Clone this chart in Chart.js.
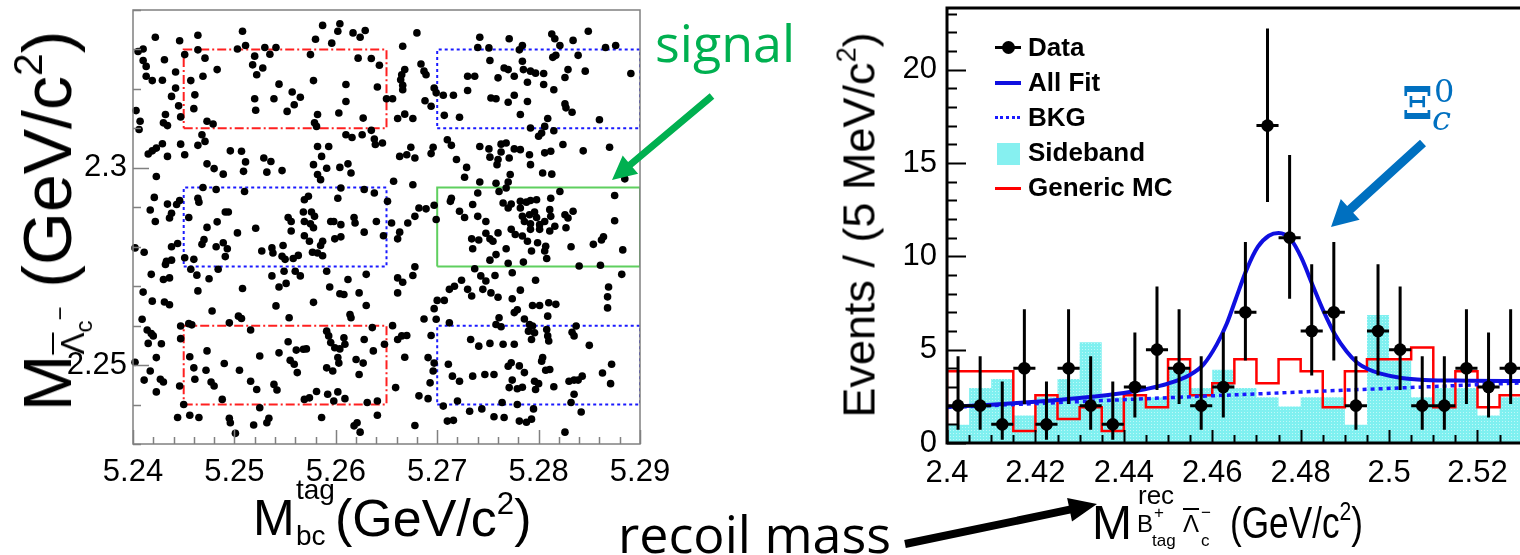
<!DOCTYPE html>
<html>
<head>
<meta charset="utf-8">
<title>Xi_c0 in the recoil mass</title>
<script src="https://cdn.jsdelivr.net/npm/chart.js@4.4.1/dist/chart.umd.min.js"></script>
<style>
  html, body { margin: 0; padding: 0; background: #fff; overflow: hidden; }
  #stage { position: relative; width: 1520px; height: 555px; overflow: hidden; font-family: "Liberation Sans", Arial, sans-serif; }
  canvas { position: absolute; top: 0; }
  .t { position: absolute; white-space: nowrap; line-height: 1; color: #000; }
  .t sup { font-size: 0.6em; vertical-align: 0.7em; line-height: 0; }
  .ov { text-decoration: overline; text-decoration-thickness: 2px; }
  .rot { position: absolute; white-space: nowrap; line-height: 1; transform: translate(-50%, -50%) rotate(-90deg); }
  .rot sup { font-size: 0.6em; vertical-align: 0.7em; line-height: 0; }
  .leg { position: absolute; font-weight: bold; font-size: 26px; line-height: 1; white-space: nowrap; }
  .note { position: absolute; font-family: "Open Sans", "Noto Sans", sans-serif; font-size: 52px; line-height: 1; white-space: nowrap; }
  .xi { position: absolute; font-family: "DejaVu Serif", serif; color: #0070c0; line-height: 1; }
</style>
</head>
<body>
<div id="stage">
  <canvas id="mbcChart" width="700" height="500" style="left:0"></canvas>
  <canvas id="recoilChart" width="678" height="500" style="left:850px"></canvas>

  <!-- left panel titles -->
  <div class="rot" style="left:47px;top:221px;font-size:68px">M<span style="font-size:33px;position:relative;top:13px"><span class="ov">&Lambda;</span><span style="font-size:24px;position:relative;top:8px">c</span><span style="font-size:24px;position:relative;top:-16px">&minus;</span></span> (GeV/c<sup>2</sup>)</div>
  <div class="t" style="left:253px;top:493px;font-size:50px">M</div>
  <div class="t" style="left:296px;top:476px;font-size:28px">tag</div>
  <div class="t" style="left:296px;top:522px;font-size:28px">bc</div>
  <div class="t" style="left:335px;top:492px;font-size:52px">(GeV/c<sup>2</sup>)</div>

  <!-- right panel titles -->
  <div class="rot" style="left:859px;top:225px;font-size:45px">Events / (5 MeV/c<sup>2</sup>)</div>
  <div class="t" style="left:1092px;top:499px;font-size:48px">M</div>
  <div class="t" style="left:1138px;top:482px;font-size:26px">rec</div>
  <div class="t" style="left:1137px;top:512px;font-size:24px">B</div>
  <div class="t" style="left:1154px;top:504px;font-size:17px">+</div>
  <div class="t" style="left:1152px;top:532px;font-size:17px">tag</div>
  <div class="t ov" style="left:1183px;top:512px;font-size:24px">&Lambda;</div>
  <div class="t" style="left:1201px;top:504px;font-size:17px">&minus;</div>
  <div class="t" style="left:1201px;top:532px;font-size:17px">c</div>
  <div class="t" style="left:1230px;top:501px;font-size:44px;transform:scaleX(0.8);transform-origin:left top">(GeV/c<sup>2</sup>)</div>

  <!-- legend -->
  <div class="leg" style="left:1028px;top:34px">Data</div>
  <div class="leg" style="left:1028px;top:69px">All Fit</div>
  <div class="leg" style="left:1028px;top:104px">BKG</div>
  <div class="leg" style="left:1028px;top:139px">Sideband</div>
  <div class="leg" style="left:1028px;top:174px">Generic MC</div>
  <div style="position:absolute;left:995px;top:46px;width:26px;height:3px;background:#000"></div>
  <div style="position:absolute;left:1002px;top:41px;width:13px;height:13px;border-radius:50%;background:#000"></div>
  <div style="position:absolute;left:995px;top:81px;width:26px;height:4px;background:#0f0fe0"></div>
  <div style="position:absolute;left:995px;top:116px;width:25px;height:0;border-top:3px dotted #1a1aff"></div>
  <div style="position:absolute;left:997px;top:143px;width:23px;height:22px;background:#86f0f0"></div>
  <div style="position:absolute;left:995px;top:187px;width:26px;height:3px;background:#ff0000"></div>

  <!-- annotations -->
  <div class="note" style="left:655px;top:16px;color:#00b050">signal</div>
  <div class="note" style="left:618px;top:507px;color:#000">recoil mass</div>
  <div class="xi" style="left:1402px;top:82px;font-size:44px;font-weight:bold">&Xi;</div>
  <div class="xi" style="left:1434px;top:75px;font-size:32px">0</div>
  <div class="xi" style="left:1432px;top:101px;font-size:34px;font-style:italic">c</div>
  <svg id="arrows" width="1520" height="555" style="position:absolute;left:0;top:0;pointer-events:none"></svg>
</div>

<script>
// ---------------- left panel: M(anti-Lambda_c) vs Mbc(tag) ----------------
const mbcTicks = [5.24, 5.25, 5.26, 5.27, 5.28, 5.29];
const lambdaTicks = [2.25, 2.3];

// candidates, [Mbc_tag, M_Lambdac]
const tagEvents = [
  [5.2422,2.3331],[5.2446,2.3322],[5.2464,2.3336],[5.2508,2.3346],[5.2405,2.3295],[5.2410,2.3301],[5.2410,2.3272],[5.2413,2.3257],[5.2431,2.3274],[5.2464,2.3299],
  [5.2471,2.3278],[5.2451,2.3287],[5.2483,2.3249],[5.2442,2.3243],[5.2413,2.3232],[5.2419,2.3221],[5.2429,2.3222],[5.2469,2.3232],[5.2457,2.3221],[5.2442,2.3202],
  [5.2438,2.3181],[5.2461,2.3185],[5.2445,2.3157],[5.2460,2.3150],[5.2447,2.3129],[5.2403,2.3145],[5.2407,2.3118],[5.2406,2.3097],[5.2432,2.3135],[5.2430,2.3114],
  [5.2434,2.3107],[5.2473,2.3118],[5.2479,2.3111],[5.2468,2.3084],[5.2471,2.3067],[5.2464,2.3057],[5.2429,2.3061],[5.2423,2.3050],[5.2419,2.3043],[5.2415,2.3035],
  [5.2434,2.3029],[5.2447,2.3060],[5.2451,2.3033],[5.2473,2.3010],[5.2480,2.2998],[5.2489,2.2984],[5.2423,2.2978],[5.2503,2.3301],[5.2511,2.3310],[5.2520,2.3283],
  [5.2518,2.3261],[5.2528,2.3253],[5.2522,2.3236],[5.2530,2.3305],[5.2535,2.3288],[5.2541,2.3305],[5.2544,2.3212],[5.2520,2.3175],[5.2521,2.3146],[5.2539,2.3175],
  [5.2557,2.3192],[5.2559,2.3160],[5.2552,2.3143],[5.2496,2.3043],[5.2507,2.3042],[5.2511,2.3015],[5.2509,2.2991],[5.2529,2.3025],[5.2536,2.3016],
  [5.2532,2.2989],[5.2547,2.2993],[5.2469,2.2950],[5.2482,2.2945],[5.2510,2.2940],[5.2421,2.2925],[5.2417,2.2893],[5.2434,2.2908],[5.2443,2.2907],[5.2446,2.2917],
  [5.2436,2.2873],[5.2438,2.2885],[5.2464,2.2923],[5.2465,2.2913],[5.2455,2.2874],[5.2422,2.2864],[5.2491,2.2888],[5.2494,2.2888],[5.2483,2.2863],[5.2473,2.2849],
  [5.2521,2.2847],[5.2553,2.2874],[5.2556,2.2864],

  [5.2587,2.3361],[5.2604,2.3365],[5.2602,2.3346],[5.2580,2.3326],[5.2596,2.3316],[5.2617,2.3342],[5.2624,2.3331],[5.2629,2.3348],[5.2680,2.3342],[5.2666,2.3308],
  [5.2575,2.3287],[5.2622,2.3278],[5.2635,2.3277],[5.2643,2.3260],[5.2578,2.3221],[5.2610,2.3211],[5.2641,2.3205],[5.2610,2.3168],[5.2603,2.3139],[5.2582,2.3135],
  [5.2627,2.3126],[5.2565,2.3179],[5.2579,2.3114],[5.2581,2.3105],[5.2650,2.3175],[5.2656,2.3175],[5.2684,2.3263],[5.2687,2.3245],[5.2689,2.3236],[5.2668,2.3249],
  [5.2665,2.3236],[5.2664,2.3223],[5.2666,2.3209],[5.2666,2.3198],[5.2661,2.3125],[5.2668,2.3136],[5.2676,2.3125],[5.2688,2.3170],[5.2694,2.3156],[5.2697,2.3202],
  [5.2699,2.3190],[5.2706,2.3184],[5.2716,2.3184],[5.2730,2.3232],[5.2730,2.3196],[5.2707,2.3133],[5.2722,2.3128],[5.2610,2.3084],[5.2616,2.3077],[5.2626,2.3084],
  [5.2635,2.3095],[5.2638,2.3073],[5.2639,2.3059],[5.2646,2.3063],[5.2582,2.3054],[5.2593,2.3054],[5.2586,2.3029],[5.2578,2.3008],[5.2591,2.2999],[5.2582,2.2983],
  [5.2585,2.2970],[5.2604,2.3001],[5.2612,2.3010],[5.2615,2.2987],[5.2663,2.3029],[5.2670,2.3033],[5.2674,2.3052],[5.2678,2.3025],[5.2696,2.3052],[5.2694,2.3036],
  [5.2710,2.3071],[5.2714,2.3057],[5.2719,2.3021],[5.2729,2.3001],[5.2727,2.2976],[5.2657,2.2966],[5.2676,2.2957],[5.2602,2.2923],[5.2605,2.2949],[5.2628,2.2945],
  [5.2638,2.2936],[5.2651,2.2915],[5.2569,2.2919],[5.2573,2.2928],[5.2568,2.2888],[5.2576,2.2888],[5.2579,2.2877],[5.2569,2.2864],[5.2575,2.2858],[5.2595,2.2864],
  [5.2598,2.2864],[5.2605,2.2856],[5.2618,2.2874],[5.2619,2.2860],[5.2640,2.2864],[5.2655,2.2860],[5.2671,2.2860],[5.2678,2.2877],[5.2682,2.2898],[5.2689,2.2896],
  [5.2697,2.2905],[5.2699,2.2869],[5.2714,2.2923],[5.2713,2.2915],[5.2722,2.2890],[5.2727,2.2874],

  [5.2742,2.3331],[5.2771,2.3327],[5.2740,2.3305],[5.2751,2.3304],[5.2784,2.3310],[5.2781,2.3299],[5.2813,2.3339],[5.2816,2.3327],[5.2821,2.3310],[5.2834,2.3323],
  [5.2849,2.3346],[5.2866,2.3305],[5.2876,2.3310],[5.2752,2.3272],[5.2784,2.3270],[5.2814,2.3280],[5.2817,2.3285],[5.2839,2.3285],[5.2766,2.3253],[5.2770,2.3249],
  [5.2785,2.3249],[5.2792,2.3245],[5.2797,2.3240],[5.2805,2.3239],[5.2829,2.3249],[5.2846,2.3245],[5.2891,2.3239],[5.2737,2.3232],[5.2760,2.3228],[5.2776,2.3232],
  [5.2789,2.3217],[5.2805,2.3211],[5.2826,2.3229],[5.2815,2.3198],[5.2753,2.3177],[5.2758,2.3175],[5.2776,2.3184],[5.2770,2.3166],[5.2789,2.3168],[5.2826,2.3162],
  [5.2827,2.3152],[5.2833,2.3141],[5.2782,2.3135],[5.2860,2.3122],[5.2809,2.3125],[5.2792,2.3101],[5.2806,2.3105],[5.2803,2.3088],[5.2800,2.3080],[5.2815,2.3094],
  [5.2742,2.3054],[5.2751,2.3048],[5.2752,2.3027],[5.2763,2.3060],[5.2768,2.3063],[5.2763,2.3040],[5.2760,2.3021],[5.2759,2.3008],[5.2771,2.3025],[5.2776,2.3048],
  [5.2782,2.3046],[5.2791,2.3033],[5.2792,2.3008],[5.2806,2.3038],[5.2812,2.3042],[5.2824,2.3059],[5.2844,2.3043],[5.2870,2.3052],[5.2804,2.2987],[5.2813,2.2984],
  [5.2742,2.2964],[5.2758,2.2961],[5.2761,2.2940],[5.2772,2.2983],[5.2770,2.2964],[5.2768,2.2949],[5.2885,2.2972],[5.2735,2.2907],[5.2740,2.2936],[5.2765,2.2911],
  [5.2773,2.2908],[5.2770,2.2898],[5.2782,2.2915],[5.2788,2.2913],[5.2792,2.2917],[5.2798,2.2919],[5.2812,2.2923],[5.2821,2.2940],[5.2875,2.2930],[5.2740,2.2877],
  [5.2782,2.2898],[5.2784,2.2877],[5.2791,2.2881],[5.2796,2.2888],[5.2798,2.2874],[5.2786,2.2864],[5.2792,2.2858],[5.2801,2.2856],[5.2806,2.2864],[5.2811,2.2894],
  [5.2812,2.2877],[5.2829,2.2873],[5.2834,2.2890],[5.2826,2.2881],[5.2875,2.2866],[5.2748,2.2864],

  [5.2402,2.2797],[5.2411,2.2786],[5.2438,2.2800],[5.2444,2.2808],[5.2433,2.2763],[5.2432,2.2755],[5.2438,2.2766],[5.2451,2.2772],[5.2460,2.2768],[5.2468,2.2806],
  [5.2470,2.2818],[5.2482,2.2800],[5.2489,2.2810],[5.2493,2.2795],[5.2491,2.2775],[5.2484,2.2743],[5.2503,2.2835],[5.2527,2.2789],[5.2537,2.2797],[5.2538,2.2784],
  [5.2548,2.2803],[5.2547,2.2776],[5.2556,2.2840],[5.2550,2.2768],[5.2558,2.2770],[5.2563,2.2778],[5.2457,2.2743],[5.2463,2.2728],[5.2475,2.2719],[5.2418,2.2730],
  [5.2430,2.2717],[5.2436,2.2721],[5.2410,2.2685],[5.2464,2.2688],[5.2508,2.2694],[5.2537,2.2726],[5.2549,2.2738],[5.2560,2.2738],[5.2565,2.2726],[5.2544,2.2698],
  [5.2551,2.2707],[5.2419,2.2662],[5.2431,2.2660],[5.2436,2.2653],[5.2541,2.2650],[5.2478,2.2637],[5.2504,2.2624],[5.2507,2.2618],[5.2495,2.2607],[5.2409,2.2616],
  [5.2554,2.2620],[5.2414,2.2589],[5.2418,2.2580],[5.2420,2.2574],[5.2415,2.2555],[5.2428,2.2554],[5.2447,2.2599],[5.2455,2.2605],[5.2458,2.2602],[5.2447,2.2567],
  [5.2516,2.2589],[5.2553,2.2559],[5.2561,2.2538],[5.2402,2.2507],[5.2423,2.2519],[5.2417,2.2485],[5.2411,2.2462],[5.2423,2.2432],[5.2427,2.2464],[5.2430,2.2457],
  [5.2473,2.2536],[5.2456,2.2521],[5.2460,2.2493],[5.2461,2.2464],[5.2472,2.2487],[5.2490,2.2504],[5.2505,2.2487],[5.2525,2.2523],[5.2544,2.2531],[5.2555,2.2512],
  [5.2559,2.2502],[5.2562,2.2481],[5.2446,2.2447],[5.2477,2.2457],[5.2480,2.2447],[5.2516,2.2459],[5.2522,2.2438],[5.2539,2.2451],[5.2542,2.2437],[5.2488,2.2413],
  [5.2450,2.2400],[5.2444,2.2367],[5.2456,2.2373],[5.2465,2.2367],[5.2495,2.2365],[5.2496,2.2354],[5.2525,2.2392],[5.2534,2.2365],[5.2532,2.2354],[5.2519,2.2348],
  [5.2501,2.2327],

  [5.2578,2.2848],[5.2569,2.2828],[5.2574,2.2814],[5.2587,2.2814],[5.2585,2.2803],[5.2577,2.2786],[5.2582,2.2784],[5.2587,2.2777],[5.2599,2.2820],[5.2605,2.2825],
  [5.2628,2.2837],[5.2647,2.2828],[5.2661,2.2820],[5.2663,2.2837],[5.2591,2.2738],[5.2612,2.2717],[5.2630,2.2730],[5.2661,2.2721],[5.2666,2.2710],[5.2676,2.2727],
  [5.2678,2.2749],[5.2594,2.2698],[5.2604,2.2681],[5.2608,2.2679],[5.2623,2.2683],[5.2661,2.2683],[5.2578,2.2659],[5.2630,2.2651],[5.2614,2.2628],[5.2615,2.2620],
  [5.2656,2.2600],[5.2636,2.2595],[5.2687,2.2617],[5.2700,2.2664],[5.2707,2.2664],[5.2697,2.2643],[5.2699,2.2616],[5.2712,2.2692],[5.2717,2.2700],[5.2724,2.2715],
  [5.2712,2.2607],[5.2591,2.2586],[5.2593,2.2574],[5.2595,2.2557],[5.2599,2.2544],[5.2604,2.2541],[5.2608,2.2569],[5.2609,2.2553],[5.2602,2.2519],[5.2603,2.2505],
  [5.2591,2.2493],[5.2597,2.2485],[5.2568,2.2540],[5.2571,2.2541],[5.2628,2.2565],[5.2637,2.2536],[5.2620,2.2514],[5.2627,2.2505],[5.2623,2.2476],[5.2648,2.2553],
  [5.2661,2.2565],[5.2665,2.2574],[5.2670,2.2575],[5.2668,2.2520],[5.2694,2.2575],[5.2691,2.2519],[5.2697,2.2505],[5.2696,2.2485],[5.2693,2.2455],[5.2711,2.2502],
  [5.2715,2.2472],[5.2722,2.2459],[5.2659,2.2443],[5.2581,2.2433],[5.2592,2.2426],[5.2602,2.2432],[5.2598,2.2409],[5.2609,2.2415],[5.2569,2.2413],[5.2574,2.2417],
  [5.2631,2.2405],[5.2641,2.2409],[5.2682,2.2422],[5.2691,2.2415],[5.2706,2.2396],[5.2720,2.2409],[5.2586,2.2367],[5.2641,2.2373],[5.2618,2.2346],[5.2621,2.2354],
  [5.2624,2.2330],[5.2678,2.2347],[5.2710,2.2358],[5.2716,2.2360],

  [5.2734,2.2820],[5.2741,2.2817],[5.2735,2.2795],[5.2748,2.2834],[5.2752,2.2820],[5.2755,2.2814],[5.2760,2.2835],[5.2773,2.2844],[5.2777,2.2831],[5.2784,2.2827],
  [5.2789,2.2814],[5.2792,2.2844],[5.2801,2.2844],[5.2811,2.2840],[5.2816,2.2852],[5.2827,2.2848],[5.2799,2.2810],[5.2807,2.2801],[5.2806,2.2789],[5.2793,2.2789],
  [5.2768,2.2795],[5.2752,2.2766],[5.2758,2.2780],[5.2770,2.2758],[5.2785,2.2761],[5.2808,2.2770],[5.2832,2.2800],[5.2854,2.2806],[5.2862,2.2817],[5.2864,2.2825],
  [5.2883,2.2792],[5.2840,2.2751],[5.2861,2.2753],[5.2737,2.2744],[5.2743,2.2726],[5.2748,2.2713],[5.2757,2.2727],[5.2774,2.2734],[5.2797,2.2715],[5.2882,2.2730],
  [5.2730,2.2692],[5.2734,2.2675],[5.2745,2.2692],[5.2753,2.2683],[5.2760,2.2672],[5.2774,2.2668],[5.2782,2.2690],[5.2869,2.2698],[5.2868,2.2673],[5.2868,2.2645],
  [5.2794,2.2651],[5.2801,2.2651],[5.2810,2.2658],[5.2817,2.2654],[5.2776,2.2633],[5.2779,2.2640],[5.2786,2.2617],[5.2809,2.2624],[5.2761,2.2620],[5.2758,2.2603],
  [5.2763,2.2597],[5.2791,2.2603],[5.2794,2.2599],[5.2790,2.2586],[5.2796,2.2582],[5.2793,2.2565],[5.2808,2.2590],[5.2809,2.2574],[5.2810,2.2561],[5.2733,2.2565],
  [5.2741,2.2548],[5.2752,2.2555],[5.2765,2.2553],[5.2776,2.2553],[5.2833,2.2583],[5.2837,2.2599],[5.2835,2.2574],[5.2850,2.2550],[5.2803,2.2510],[5.2804,2.2519],
  [5.2773,2.2506],[5.2770,2.2497],[5.2781,2.2498],[5.2786,2.2481],[5.2807,2.2487],[5.2811,2.2489],[5.2735,2.2472],[5.2747,2.2476],[5.2756,2.2476],[5.2774,2.2462],
  [5.2771,2.2443],[5.2779,2.2440],[5.2784,2.2444],[5.2796,2.2459],[5.2800,2.2453],[5.2797,2.2438],[5.2815,2.2445],[5.2830,2.2459],[5.2835,2.2462],[5.2839,2.2462],
  [5.2843,2.2472],[5.2863,2.2480],[5.2872,2.2502],[5.2871,2.2453],[5.2835,2.2426],[5.2764,2.2405],[5.2779,2.2400],[5.2744,2.2389],[5.2732,2.2383],[5.2795,2.2389],
  [5.2832,2.2405],[5.2842,2.2381],[5.2756,2.2369],[5.2766,2.2367],[5.2781,2.2358],[5.2788,2.2355],[5.2793,2.2363],[5.2826,2.2330]
];

// regions [Mbc low, Mbc high, M low, M high]
const signalBox = [5.27, 5.29, 2.275, 2.295];
const lambdaSidebandBoxes = [[5.27, 5.29, 2.31, 2.33], [5.245, 5.265, 2.275, 2.295], [5.27, 5.29, 2.24, 2.26]];
const doubleSidebandBoxes = [[5.245, 5.265, 2.31, 2.33], [5.245, 5.265, 2.24, 2.26]];

// ---------------- right panel: recoil mass ----------------
const recoilTicks = [2.4, 2.42, 2.44, 2.46, 2.48, 2.5, 2.52];
const eventTicks = [0, 5, 10, 15, 20];
const binEdges = [2.400, 2.405, 2.410, 2.415, 2.420, 2.425, 2.430, 2.435, 2.440, 2.445, 2.450, 2.455, 2.460,
  2.465, 2.470, 2.475, 2.480, 2.485, 2.490, 2.495, 2.500, 2.505, 2.510, 2.515, 2.520, 2.525, 2.530];
const dataCounts = [2, 2, 1, 4, 1, 4, 2, 1, 3, 5, 4, 2, 3, 7, 17, 11, 6, 7, 2, 6, 5, 2, 2, 4, 3, 4];
const dataErrLow = [1.29, 1.29, 0.83, 1.91, 0.83, 1.91, 1.29, 0.83, 1.63, 2.16, 1.91, 1.29, 1.63, 2.58, 4.09, 3.27, 2.38, 2.58, 1.29, 2.38, 2.16, 1.29, 1.29, 1.91, 1.63, 1.91];
const dataErrHigh = [2.64, 2.64, 2.30, 3.16, 2.30, 3.16, 2.64, 2.30, 2.92, 3.38, 3.16, 2.64, 2.92, 3.77, 5.20, 4.42, 3.58, 3.77, 2.64, 3.58, 3.38, 2.64, 2.64, 3.16, 2.92, 3.16];
const sidebandYield = [0.98, 2.94, 3.43, 1.47, 2.45, 3.43, 5.39, 2.45, 2.45, 2.45, 3.92, 2.94, 3.92, 2.94, 2.45, 1.96, 2.45, 2.45, 0.98, 6.86, 4.41, 2.45, 2.94, 2.94, 1.47, 2.45];
const genericMC = [3.84, 3.84, 3.84, 0.64, 2.56, 1.28, 1.92, 0.64, 2.56, 1.92, 4.48, 2.56, 3.20, 4.48, 3.20, 4.48, 3.84, 1.92, 3.84, 4.48, 4.48, 5.12, 1.92, 3.84, 1.92, 2.56];
const fitMass = [2.400, 2.410, 2.420, 2.430, 2.440, 2.445, 2.450, 2.455, 2.458, 2.461, 2.4633, 2.4653, 2.4678, 2.4703, 2.4728, 2.4750,
  2.4778, 2.4802, 2.4828, 2.4853, 2.4878, 2.4904, 2.4928, 2.4953, 2.4983, 2.5028, 2.508, 2.518, 2.530];
const fitYield = [1.93, 2.05, 2.21, 2.41, 2.68, 2.89, 3.18, 3.66, 4.20, 5.27, 6.40, 7.70, 9.30, 10.50, 11.10, 11.25,
  10.90, 9.90, 8.40, 7.00, 5.80, 4.90, 4.30, 3.95, 3.70, 3.48, 3.38, 3.34, 3.32];
const bkgMass = [2.400, 2.465, 2.530];
const bkgYield = [1.90, 2.58, 3.22];

// ---------------- helpers ----------------
const tickFont = { family: "'Liberation Sans', Arial, sans-serif", size: 31 };
const fmt = v => String(Number(v.toFixed(3)));

function boxPath(b) {
  return [{ x: b[0], y: b[2] }, { x: b[1], y: b[2] }, { x: b[1], y: b[3] }, { x: b[0], y: b[3] }, { x: b[0], y: b[2] }];
}

function histPath(values) {
  const pts = values.map((v, i) => ({ x: binEdges[i], y: v }));
  pts.push({ x: binEdges[binEdges.length - 1], y: values[values.length - 1] });
  return pts;
}

// keep the plot frame where the layout padding says, not where the edge labels push it
const noLabelPadX = s => { s.paddingLeft = 0; s.paddingRight = 0; };
const noLabelPadY = s => { s.paddingTop = 0; s.paddingBottom = 0; };

// frame + inward ticks drawn ROOT style
const frameTicks = {
  id: 'frameTicks',
  afterDatasetsDraw(chart, args, o) {
    const { ctx, chartArea: a, scales: { x, y } } = chart;
    ctx.save();
    ctx.strokeStyle = o.color;
    ctx.lineWidth = o.tickWidth;
    ctx.beginPath();
    const nx = Math.round((x.max - x.min) / o.xMinor);
    const x0 = Math.ceil(x.min / o.xMinor - 1e-6) * o.xMinor;
    for (let i = 0; i <= nx; i++) {
      const v = x0 + i * o.xMinor;
      if (v > x.max + 1e-9) break;
      const major = Math.abs(v / o.xMajor - Math.round(v / o.xMajor)) < 1e-6;
      const px = Math.round(x.getPixelForValue(v)) + 0.5;
      ctx.moveTo(px, a.bottom);
      ctx.lineTo(px, a.bottom - (major ? o.xMajorLen : o.xMinorLen));
    }
    const ny = Math.round((y.max - y.min) / o.yMinor);
    const y0 = Math.ceil(y.min / o.yMinor - 1e-6) * o.yMinor;
    for (let i = 0; i <= ny; i++) {
      const v = y0 + i * o.yMinor;
      if (v > y.max + 1e-9) break;
      const major = Math.abs(v / o.yMajor - Math.round(v / o.yMajor)) < 1e-6;
      const py = Math.round(y.getPixelForValue(v)) + 0.5;
      ctx.moveTo(a.left, py);
      ctx.lineTo(a.left + (major ? o.yMajorLen : o.yMinorLen), py);
    }
    ctx.stroke();
    ctx.lineWidth = o.frameWidth;
    ctx.strokeRect(a.left, a.top, a.right - a.left, a.bottom - a.top);
    ctx.restore();
  }
};

// asymmetric Poisson error bars for the data set
const errorBars = {
  id: 'errorBars',
  beforeDatasetDraw(chart, args) {
    const ds = chart.data.datasets[args.index];
    if (!ds.errLow) return;
    const { ctx, scales: { x, y } } = chart;
    ctx.save();
    ctx.strokeStyle = '#000';
    ctx.lineWidth = 3;
    ctx.beginPath();
    ds.data.forEach((p, i) => {
      const px = x.getPixelForValue(p.x);
      const py = y.getPixelForValue(p.y);
      ctx.moveTo(px, y.getPixelForValue(p.y - ds.errLow[i]));
      ctx.lineTo(px, y.getPixelForValue(p.y + ds.errHigh[i]));
      ctx.moveTo(x.getPixelForValue(p.x - ds.halfWidth), py);
      ctx.lineTo(x.getPixelForValue(p.x + ds.halfWidth), py);
    });
    ctx.stroke();
    ctx.restore();
  }
};

function sidebandPattern() {
  const c = document.createElement('canvas');
  c.width = 3; c.height = 3;
  const g = c.getContext('2d');
  g.fillStyle = '#7ff0f0';
  g.fillRect(0, 0, 3, 3);
  g.fillStyle = '#bff8f8';
  g.fillRect(1, 1, 1, 1);
  return g.createPattern(c, 'repeat');
}

// ---------------- left chart ----------------
const boxStyle = { showLine: true, pointRadius: 0, borderWidth: 2, fill: false, order: 1 };
new Chart(document.getElementById('mbcChart'), {
  type: 'line',
  data: {
    datasets: [
      { data: tagEvents.map(([x, y]) => ({ x, y })), showLine: false, pointRadius: 3.8,
        pointBackgroundColor: '#000', pointBorderWidth: 0, clip: 8, order: 0 },
      { ...boxStyle, data: boxPath(signalBox), borderColor: '#5fcf5f' },
      ...lambdaSidebandBoxes.map(b => ({ ...boxStyle, data: boxPath(b), borderColor: '#1a1aff', borderDash: [3, 3] })),
      ...doubleSidebandBoxes.map(b => ({ ...boxStyle, data: boxPath(b), borderColor: '#ff2020', borderDash: [9, 3, 2, 3] }))
    ]
  },
  options: {
    responsive: false,
    animation: false,
    events: [],
    layout: { padding: { top: 10, right: 60, left: 0, bottom: 0 } },
    plugins: {
      legend: { display: false },
      tooltip: { enabled: false },
      frameTicks: { color: '#808080', tickWidth: 1.5, frameWidth: 1.5,
        xMinor: 0.002, xMajor: 0.01, xMinorLen: 7, xMajorLen: 14,
        yMinor: 0.01, yMajor: 0.05, yMinorLen: 8, yMajorLen: 16 }
    },
    scales: {
      x: {
        type: 'linear', min: 5.24, max: 5.29,
        afterFit: s => { s.height = 56; noLabelPadX(s); },
        afterBuildTicks: s => { s.ticks = mbcTicks.map(value => ({ value })); },
        grid: { display: false, drawTicks: false },
        border: { display: false },
        ticks: { font: tickFont, color: '#000', padding: 10, maxRotation: 0, autoSkip: false, callback: fmt }
      },
      y: {
        type: 'linear', min: 2.23, max: 2.34,
        afterFit: s => { s.width = 133; noLabelPadY(s); },
        afterBuildTicks: s => { s.ticks = lambdaTicks.map(value => ({ value })); },
        grid: { display: false, drawTicks: false },
        border: { display: false },
        ticks: { font: tickFont, color: '#000', padding: 6, autoSkip: false, callback: fmt }
      }
    }
  },
  plugins: [frameTicks]
});

// ---------------- right chart ----------------
const binCenters = dataCounts.map((_, i) => (binEdges[i] + binEdges[i + 1]) / 2);
new Chart(document.getElementById('recoilChart'), {
  type: 'line',
  data: {
    datasets: [
      { label: 'Data', data: dataCounts.map((v, i) => ({ x: binCenters[i], y: v })),
        errLow: dataErrLow, errHigh: dataErrHigh, halfWidth: 0.0025,
        showLine: false, pointRadius: 6.3, pointBackgroundColor: '#000', pointBorderWidth: 0, order: 0 },
      { label: 'All Fit', data: fitMass.map((m, i) => ({ x: m, y: fitYield[i] })),
        borderColor: '#0f0fe0', borderWidth: 4, pointRadius: 0, cubicInterpolationMode: 'monotone', fill: false, order: 1 },
      { label: 'BKG', data: bkgMass.map((m, i) => ({ x: m, y: bkgYield[i] })),
        borderColor: '#1a1aff', borderWidth: 3.5, borderDash: [4, 4], pointRadius: 0, tension: 0.3, fill: false, order: 2 },
      { label: 'Generic MC', data: [{ x: binEdges[0], y: 0 }, ...histPath(genericMC)],
        borderColor: '#ff0000', borderWidth: 2.5, pointRadius: 0, stepped: 'before', fill: false, order: 3 },
      { label: 'Sideband', data: histPath(sidebandYield),
        borderWidth: 0, borderColor: 'rgba(0,0,0,0)', backgroundColor: sidebandPattern(),
        pointRadius: 0, stepped: 'before', fill: 'origin', order: 4 }
    ]
  },
  options: {
    responsive: false,
    animation: false,
    events: [],
    layout: { padding: { top: 8, right: 0, left: 0, bottom: 0 } },
    plugins: {
      legend: { display: false },
      tooltip: { enabled: false },
      frameTicks: { color: '#000', tickWidth: 2, frameWidth: 3,
        xMinor: 0.005, xMajor: 0.02, xMinorLen: 8, xMajorLen: 13,
        yMinor: 1, yMajor: 5, yMinorLen: 10, yMajorLen: 19 }
    },
    scales: {
      x: {
        type: 'linear', min: 2.4, max: 2.53,
        afterFit: s => { s.height = 57; noLabelPadX(s); },
        afterBuildTicks: s => { s.ticks = recoilTicks.map(value => ({ value })); },
        grid: { display: false, drawTicks: false },
        border: { display: false },
        ticks: { font: tickFont, color: '#000', padding: 12, maxRotation: 0, autoSkip: false, callback: fmt }
      },
      y: {
        type: 'linear', min: 0, max: 23.3,
        afterFit: s => { s.width = 97; noLabelPadY(s); },
        afterBuildTicks: s => { s.ticks = eventTicks.map(value => ({ value })); },
        grid: { display: false, drawTicks: false },
        border: { display: false },
        ticks: { font: tickFont, color: '#000', padding: 10, autoSkip: false, callback: fmt }
      }
    }
  },
  plugins: [frameTicks, errorBars]
});

// ---------------- annotation arrows ----------------
function arrow(x1, y1, x2, y2, shaft, headLen, headW, color) {
  const dx = x2 - x1, dy = y2 - y1, L = Math.hypot(dx, dy);
  const ux = dx / L, uy = dy / L, nx = -uy, ny = ux;
  const bx = x2 - ux * headLen, by = y2 - uy * headLen;
  const p = [
    [x1 + nx * shaft / 2, y1 + ny * shaft / 2], [bx + nx * shaft / 2, by + ny * shaft / 2],
    [bx + nx * headW / 2, by + ny * headW / 2], [x2, y2],
    [bx - nx * headW / 2, by - ny * headW / 2], [bx - nx * shaft / 2, by - ny * shaft / 2],
    [x1 - nx * shaft / 2, y1 - ny * shaft / 2]
  ];
  return `<polygon fill="${color}" points="${p.map(q => q[0].toFixed(1) + ',' + q[1].toFixed(1)).join(' ')}"/>`;
}
document.getElementById('arrows').innerHTML =
  arrow(712, 96, 612, 180, 7, 24, 24, '#00b050') +
  arrow(1423, 143, 1331, 227, 9, 26, 28, '#0070c0') +
  arrow(905, 544, 1097, 504, 8, 28, 24, '#000');
</script>
</body>
</html>
